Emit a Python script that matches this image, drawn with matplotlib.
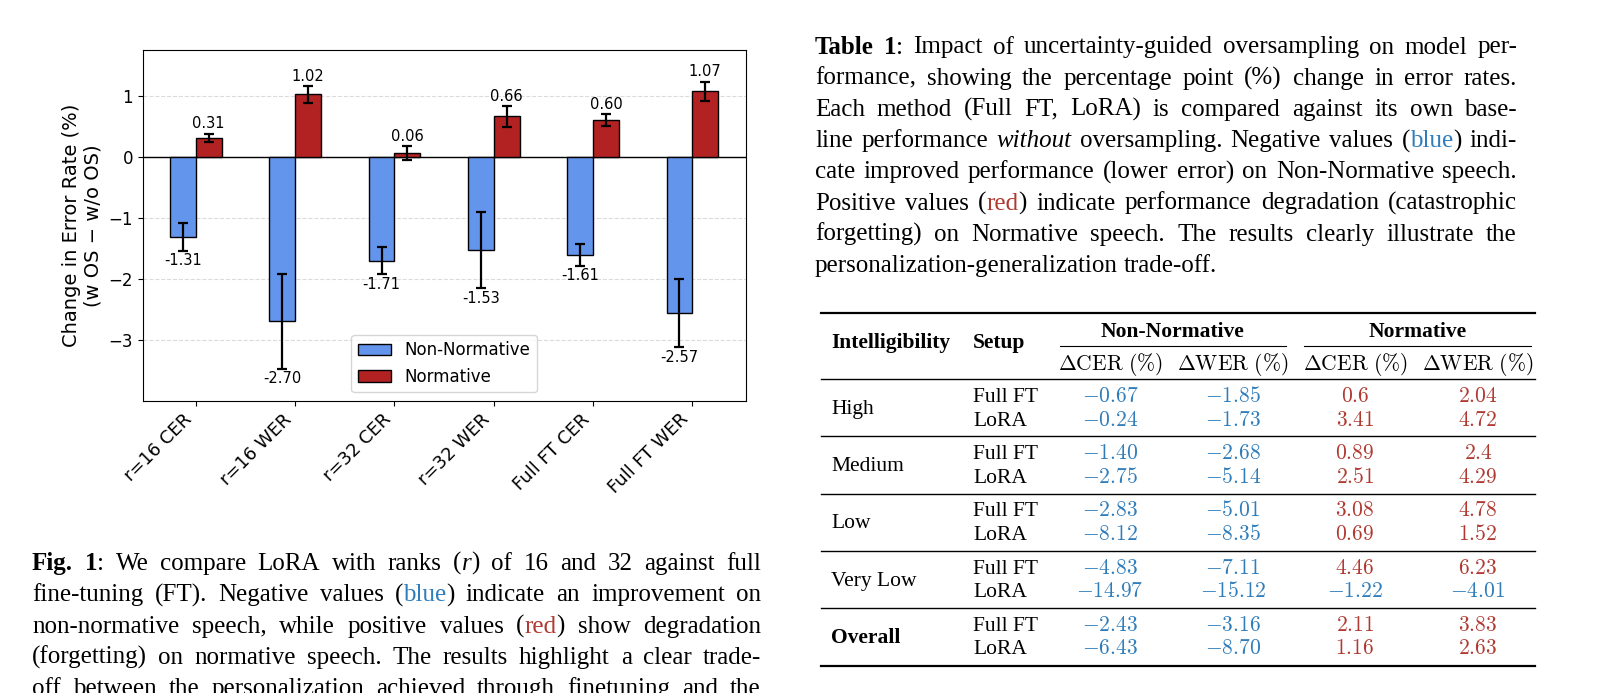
# module imports
import re
import matplotlib
matplotlib.use("Agg")
import matplotlib.pyplot as plt
import numpy as np

# item imports
from matplotlib.lines import Line2D

# constants
W, H = 1598, 693
SERIF = "Liberation Serif"
BLUE = "#2f7dbb"
RED = "#b03a32"

# chart data
conditions = ["r=16 CER", "r=16 WER", "r=32 CER", "r=32 WER", "Full FT CER", "Full FT WER"]
non_normative = [-1.31, -2.70, -1.71, -1.53, -1.61, -2.57]
non_normative_err = [0.23, 0.78, 0.22, 0.63, 0.18, 0.56]
normative = [0.31, 1.02, 0.06, 0.66, 0.60, 1.07]
normative_err = [0.07, 0.14, 0.11, 0.17, 0.10, 0.16]
y_ticks = [-3, -2, -1, 0, 1]

# table data
levels = ["High", "Medium", "Low", "Very Low", "Overall"]
setups = ["Full FT", "LoRA"]
col_groups = ["Non-Normative", "Normative"]
col_heads = [r"$\Delta\mathrm{CER}\ (\%)$", r"$\Delta\mathrm{WER}\ (\%)$"] * 2
nn_cer = ["-0.67", "-0.24", "-1.40", "-2.75", "-2.83", "-8.12", "-4.83", "-14.97", "-2.43", "-6.43"]
nn_wer = ["-1.85", "-1.73", "-2.68", "-5.14", "-5.01", "-8.35", "-7.11", "-15.12", "-3.16", "-8.70"]
n_cer = ["0.6", "3.41", "0.89", "2.51", "3.08", "0.69", "4.46", "-1.22", "2.11", "1.16"]
n_wer = ["2.04", "4.72", "2.4", "4.29", "4.78", "1.52", "6.23", "-4.01", "3.83", "2.63"]

# caption texts
table_caption = [
    "<b>Table 1</b>: Impact of uncertainty-guided oversampling on model per-",
    "formance, showing the percentage point (%) change in error rates.",
    "Each method (Full FT, LoRA) is compared against its own base-",
    "line performance <i>without</i> oversampling. Negative values (<blue>blue</blue>) indi-",
    "cate improved performance (lower error) on Non-Normative speech.",
    "Positive values (<red>red</red>) indicate performance degradation (catastrophic",
    "forgetting) on Normative speech.  The results clearly illustrate the",
    "personalization-generalization trade-off.",
]
fig_caption = [
    "<b>Fig. 1</b>: We compare LoRA with ranks (<i>r</i>) of 16 and 32 against full",
    "fine-tuning (FT). Negative values (<blue>blue</blue>) indicate an improvement on",
    "non-normative speech, while positive values (<red>red</red>) show degradation",
    "(forgetting) on normative speech. The results highlight a clear trade-",
    "off between the personalization achieved through finetuning and the",
]

STYLES = {
    "n": {},
    "b": {"fontweight": "bold"},
    "i": {"fontstyle": "italic"},
    "blue": {"color": BLUE},
    "red": {"color": RED},
}

plt.rcParams["mathtext.fontset"] = "cm"


def fx(x):
    return x / W


def fy(y):
    return 1 - y / H


def hline(fig, x0, x1, y, lw):
    fig.add_artist(Line2D([fx(x0), fx(x1)], [fy(y), fy(y)],
                          transform=fig.transFigure, color="black", lw=lw))


def parse(line):
    # split a marked-up line into words made of styled pieces
    words = [[]]
    style = "n"
    for part in re.split(r"(</?\w+>)", line):
        if part.startswith("</"):
            style = "n"
        elif part.startswith("<"):
            style = part[1:-1]
        else:
            for k, chunk in enumerate(part.split(" ")):
                if k > 0:
                    words.append([])
                if chunk:
                    words[-1].append((chunk, style))
    return [w for w in words if w]


def paragraph(fig, lines, x0, x1, y0, dy, size, ragged_last):
    r = fig.canvas.get_renderer()
    space = size * 100 / 72 * 0.25
    for i, line in enumerate(lines):
        words = parse(line)
        placed = []
        for word in words:
            segs = []
            for txt, st in word:
                kw = {"color": "black"}
                kw.update(STYLES[st])
                t = fig.text(0, 0, txt, fontsize=size, family=SERIF,
                             va="baseline", ha="left", **kw)
                segs.append((t, t.get_window_extent(r).width))
            placed.append(segs)
        total = sum(w for segs in placed for _, w in segs)
        if ragged_last and i == len(lines) - 1:
            gap = space
        else:
            gap = (x1 - x0 - total) / max(len(placed) - 1, 1)
        x = x0
        y = y0 + i * dy
        for segs in placed:
            for t, w in segs:
                t.set_position((fx(x), fy(y)))
                x += w
            x += gap


# do script
if __name__ == "__main__":
    fig = plt.figure(figsize=(W / 100, H / 100), dpi=100)

    # bar chart
    ax = fig.add_axes([fx(142.7), fy(400.5), (746 - 142.7) / W, (400.5 - 50) / H])
    x = np.arange(len(conditions))
    w = 0.26
    err_kw = dict(elinewidth=1.6, capthick=1.6, ecolor="black")
    ax.bar(x - w / 2, non_normative, w, yerr=non_normative_err, capsize=3.5,
           color="cornflowerblue", edgecolor="black", lw=1, error_kw=err_kw,
           label="Non-Normative", zorder=3)
    ax.bar(x + w / 2, normative, w, yerr=normative_err, capsize=3.5,
           color="firebrick", edgecolor="black", lw=1, error_kw=err_kw,
           label="Normative", zorder=3)
    ax.axhline(0, color="black", lw=1, zorder=2)

    # value labels
    for xi, v, e in zip(x - w / 2, non_normative, non_normative_err):
        ax.text(xi, v - e - 0.04, f"{v:.2f}", ha="center", va="top", fontsize=10.5)
    for xi, v, e in zip(x + w / 2, normative, normative_err):
        ax.text(xi, v + e + 0.04, f"{v:.2f}", ha="center", va="bottom", fontsize=10.5)

    ax.yaxis.grid(True, ls="--", color="lightgray", alpha=0.8)
    ax.set_axisbelow(True)
    ax.set_xlim(-0.535, 5.54)
    ax.set_ylim(-4.0, 1.75)
    ax.set_yticks(y_ticks)
    ax.tick_params(axis="y", labelsize=12)
    ax.set_xticks(x, conditions, rotation=45, ha="right", fontsize=13)
    ax.set_ylabel("Change in Error Rate (%)\n(w OS \u2212 w/o OS)", fontsize=14)
    ax.legend(loc="lower center", fontsize=12)

    # captions
    paragraph(fig, table_caption, 815, 1517, 53.5, 31.2, 18, True)
    paragraph(fig, fig_caption, 32, 761, 570, 31.3, 18, False)

    # table
    TF = 15.5
    col_x = [1110, 1233, 1355, 1478]
    hline(fig, 821, 1535, 313, 1.6)
    fig.text(fx(831), fy(348), "Intelligibility", family=SERIF, fontsize=TF,
             fontweight="bold", va="baseline")
    fig.text(fx(973), fy(348), "Setup", family=SERIF, fontsize=TF,
             fontweight="bold", va="baseline")
    for name, cx in zip(col_groups, [1172.6, 1417.4]):
        fig.text(fx(cx), fy(337), name, family=SERIF, fontsize=TF,
                 fontweight="bold", ha="center", va="baseline")
    hline(fig, 1060, 1286, 346, 0.8)
    hline(fig, 1304, 1531, 346, 0.8)
    for head, cx in zip(col_heads, col_x):
        fig.text(fx(cx), fy(370), head, fontsize=TF, ha="center", va="baseline")
    hline(fig, 821, 1535, 379.3, 1.0)

    columns = [nn_cer, nn_wer, n_cer, n_wer]
    for g, level in enumerate(levels):
        y_top = 395 + 57.2 * g
        fig.text(fx(831), fy(y_top + 12 + 7), level, family=SERIF, fontsize=TF,
                 fontweight="bold" if level == "Overall" else "normal", va="baseline")
        for k, setup in enumerate(setups):
            yb = y_top + 23.7 * k + 7
            fig.text(fx(973), fy(yb), setup, family=SERIF, fontsize=TF, va="baseline")
            for col, cx in zip(columns, col_x):
                val = col[2 * g + k]
                color = BLUE if val.startswith("-") else RED
                fig.text(fx(cx), fy(yb), f"${val}$", fontsize=TF, color=color,
                         ha="center", va="baseline")
        if g < len(levels) - 1:
            hline(fig, 821, 1535, 436.3 + 57.2 * g, 1.0)
    hline(fig, 821, 1535, 666, 1.6)

    plt.savefig("out.png", dpi=100)
